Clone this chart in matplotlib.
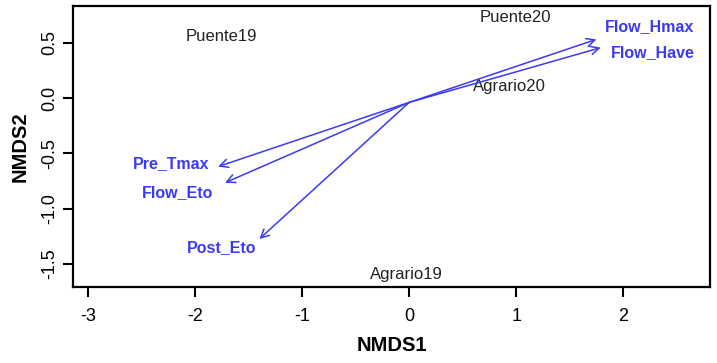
import matplotlib.pyplot as plt

plt.rcParams['font.family'] = ['Liberation Sans', 'DejaVu Sans']
plt.rcParams['axes.unicode_minus'] = False

# site scores (NMDS1, NMDS2)
sites = ['Puente19', 'Puente20', 'Agrario20', 'Agrario19']
site_x = [-1.75, 0.99, 0.935, -0.03]
site_y = [0.56, 0.726, 0.108, -1.60]

# fitted vectors: arrow tips and label positions
vectors = ['Flow_Hmax', 'Flow_Have', 'Pre_Tmax', 'Flow_Eto', 'Post_Eto']
vec_x = [1.75, 1.79, -1.785, -1.72, -1.40]
vec_y = [0.53, 0.455, -0.62, -0.766, -1.275]
lab_x = [2.25, 2.28, -2.22, -2.16, -1.75]
lab_y = [0.65, 0.413, -0.59, -0.856, -1.35]
origin = (0.0, -0.04)

BLUE = '#3a3af5'

fig = plt.figure(figsize=(7.17, 3.63), dpi=100)
ax = fig.add_axes([0.102, 0.209, 0.888, 0.774])

for name, x, y in zip(sites, site_x, site_y):
    ax.text(x, y, name, ha='center', va='center', fontsize=12, color='#222222')

for x, y in zip(vec_x, vec_y):
    ax.annotate('', xy=(x, y), xytext=origin,
                arrowprops=dict(arrowstyle='->,head_length=0.6,head_width=0.3',
                                color=BLUE, lw=1.1, shrinkA=0, shrinkB=0))

for name, x, y in zip(vectors, lab_x, lab_y):
    ax.text(x, y, name, ha='center', va='center', fontsize=11.5,
            fontweight='bold', color=BLUE)

ax.set_xlim(-3.14, 2.81)
ax.set_ylim(-1.71, 0.83)
ax.set_xticks([-3, -2, -1, 0, 1, 2])
ax.set_yticks([-1.5, -1.0, -0.5, 0.0, 0.5])
ax.set_yticklabels(['-1.5', '-1.0', '-0.5', '0.0', '0.5'], rotation=90, va='center')
ax.tick_params(axis='both', direction='out', length=7, width=1.5, labelsize=13)
ax.tick_params(axis='x', pad=8)
ax.tick_params(axis='y', pad=4)

for s in ax.spines.values():
    s.set_linewidth(1.6)

ax.set_xlabel('NMDS1', fontsize=14.5, fontweight='bold', labelpad=8)
ax.set_ylabel('NMDS2', fontsize=14.5, fontweight='bold', labelpad=8)

fig.savefig('out.png', dpi=100)
